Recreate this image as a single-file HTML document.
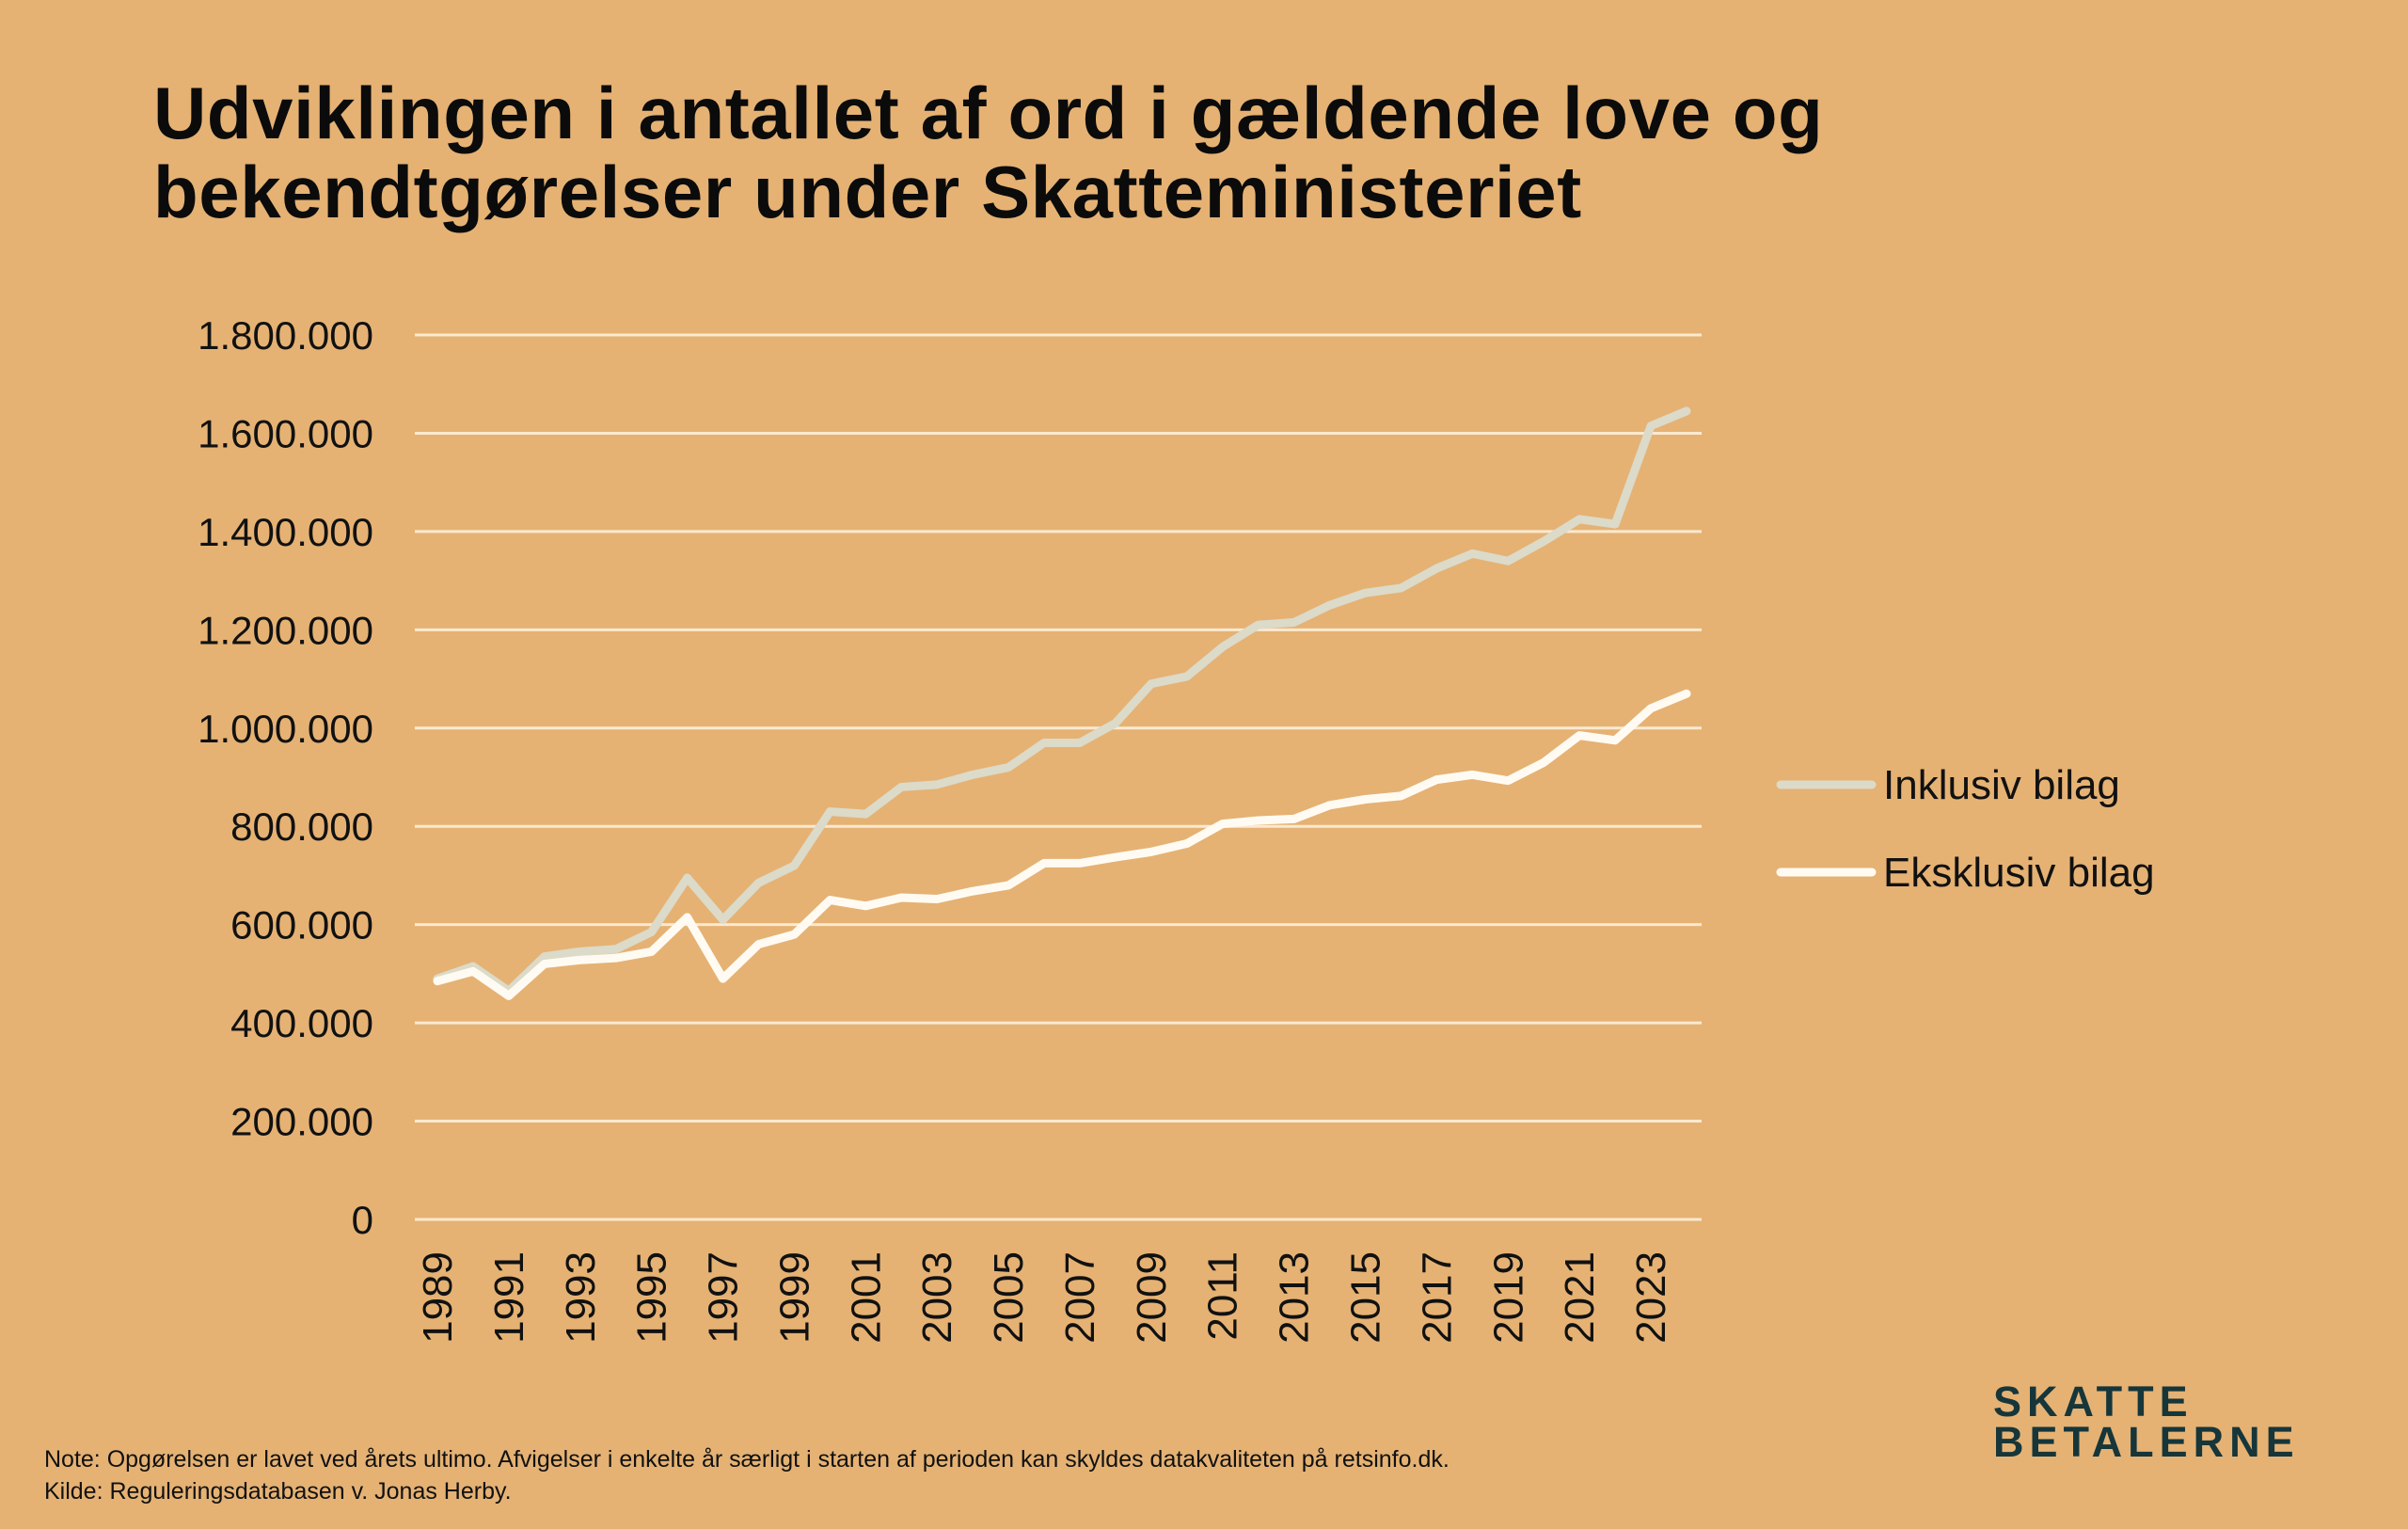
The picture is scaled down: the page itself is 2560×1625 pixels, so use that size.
<!DOCTYPE html>
<html><head><meta charset="utf-8"><style>
html,body{margin:0;padding:0;}
body{width:2560px;height:1625px;background:#E5B274;position:relative;overflow:hidden;font-family:"Liberation Sans",sans-serif;}
.title{position:absolute;left:163px;top:78px;font-size:78px;font-weight:bold;line-height:84px;color:#0b0b0b;letter-spacing:0.6px;}
.note{position:absolute;left:47px;font-size:25px;color:#111;}
.logo{position:absolute;left:2119px;top:1468px;font-size:45px;font-weight:bold;line-height:43px;color:#16363a;letter-spacing:6px;}
svg{position:absolute;left:0;top:0;}
</style></head><body>
<div class="title">Udviklingen i antallet af ord i gældende love og<br>bekendtgørelser under Skatteministeriet</div>
<svg id="chart" width="2560" height="1625"></svg>
<div class="note" style="top:1537px">Note: Opgørelsen er lavet ved årets ultimo. Afvigelser i enkelte år særligt i starten af perioden kan skyldes datakvaliteten på retsinfo.dk.</div>
<div class="note" style="top:1571px">Kilde: Reguleringsdatabasen v. Jonas Herby.</div>
<div class="logo">SKATTE<br>BETALERNE</div>
<script>
const years = [];
for (let y = 1989; y <= 2024; y++) years.push(y);
const inklusiv = [490,515,465,535,545,550,585,695,610,685,720,830,825,880,885,905,920,970,970,1010,1090,1105,1165,1210,1215,1250,1275,1285,1325,1355,1340,1380,1425,1415,1615,1645].map(v=>v*1000);
const eksklusiv = [485,505,455,520,528,532,545,615,490,560,580,650,638,655,652,668,680,725,725,737,748,765,805,812,815,843,855,862,895,905,893,930,985,975,1040,1070].map(v=>v*1000);
const yTicks = [0,200000,400000,600000,800000,1000000,1200000,1400000,1600000,1800000];
const yTickLabels = ["0","200.000","400.000","600.000","800.000","1.000.000","1.200.000","1.400.000","1.600.000","1.800.000"];
const seriesNames = ["Inklusiv bilag","Eksklusiv bilag"];

const NS="http://www.w3.org/2000/svg";
const svg=document.getElementById('chart');
const x0=441,x1=1809,yB=1296,yT=356;
const xs=i=>465+i*(1793-465)/(years.length-1);
const ys=v=>yB-(v/1800000)*(yB-yT);
function mk(t,a){const e=document.createElementNS(NS,t);for(const k in a)e.setAttribute(k,a[k]);svg.appendChild(e);return e;}
yTicks.forEach((t,i)=>{
  const l=mk('line',{x1:x0,x2:x1,y1:ys(t),y2:ys(t),stroke:'#fbe9d0','stroke-width':3});
  
  
  const tx=mk('text',{x:397,y:ys(t)+15,'text-anchor':'end','font-size':42,fill:'#111','font-family':'Liberation Sans, sans-serif'});
  tx.textContent=yTickLabels[i];
  
  
});
years.forEach((yr,i)=>{
  if(i%2) return;
  const xx=xs(i)+15;
  const tx=mk('text',{x:xx,y:1330,'text-anchor':'end','font-size':44,fill:'#111',transform:`rotate(-90 ${xx} 1330)`,'font-family':'Liberation Sans, sans-serif'});
  tx.textContent=yr;
  
  
});
function line(data,color,name){
  const p=mk('polyline',{points:data.map((v,i)=>xs(i)+','+ys(v)).join(' '),fill:'none',stroke:color,'stroke-width':9,'stroke-linejoin':'round','stroke-linecap':'round'});
  
  
}
line(inklusiv,'#dcdac9','line-inklusiv');
line(eksklusiv,'#fffbf2','line-eksklusiv');
[['#dcdac9',834,seriesNames[0]],['#fffbf2',927,seriesNames[1]]].forEach(([c,y,n])=>{
  const l=mk('line',{x1:1893,x2:1990,y1:y,y2:y,stroke:c,'stroke-width':9,'stroke-linecap':'round'});
  
  
  const t=mk('text',{x:2002,y:y+15,'font-size':44,fill:'#111','font-family':'Liberation Sans, sans-serif'});
  t.textContent=n;
  
  
});
</script>
</body></html>
